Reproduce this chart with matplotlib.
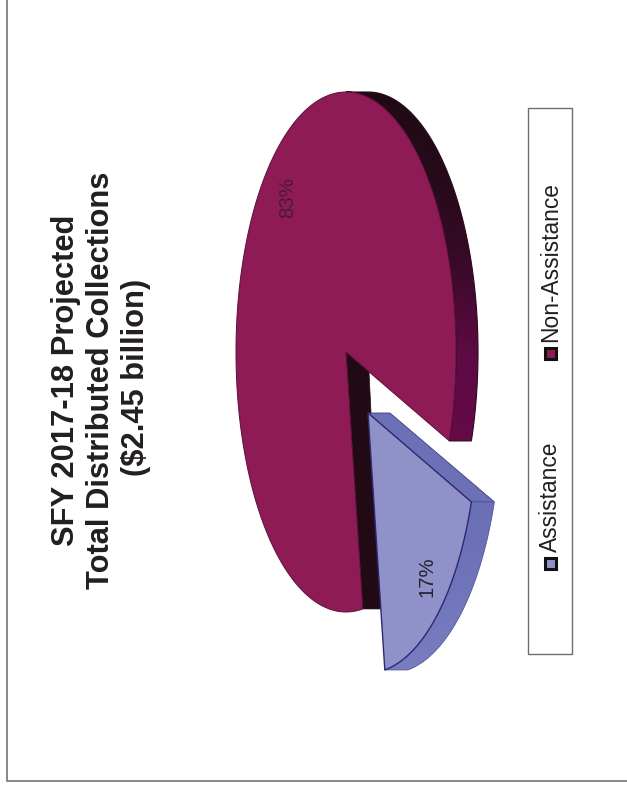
import numpy as np
import matplotlib
matplotlib.use("Agg")
import matplotlib.pyplot as plt
from matplotlib.patches import Polygon, Rectangle
from matplotlib.colors import LinearSegmentedColormap

title_lines = ["SFY 2017-18 Projected", "Total Distributed Collections", "($2.45 billion)"]
categories = ["Assistance", "Non-Assistance"]
shares = [17, 83]
share_labels = ["17%", "83%"]

plt.rcParams['font.family'] = ['Liberation Sans', 'DejaVu Sans']
W, H = 627, 786
fig = plt.figure(figsize=(W / 100, H / 100), dpi=100)
ax = fig.add_axes([0, 0, 1, 1])

A, B, DEPTH = 110, 260, 22


def arc(cx, cy, t0, t1, n=200):
    t = np.radians(np.linspace(t0, t1, n))
    return np.column_stack([cx + A * np.cos(t), cy - B * np.sin(t)])


def gradient_fill(points, colors, zorder):
    """Fill a polygon with a colour ramp running down the page."""
    poly = Polygon(points, closed=True, fc='none', ec='none', zorder=zorder)
    ax.add_patch(poly)
    cmap = LinearSegmentedColormap.from_list('ramp', colors)
    x0, y0 = points.min(axis=0)
    x1, y1 = points.max(axis=0)
    grad = np.linspace(0, 1, 256).reshape(-1, 1)
    im = ax.imshow(grad, cmap=cmap, aspect='auto', extent=(x0, x1, y1, y0),
                   zorder=zorder, interpolation='bilinear')
    im.set_clip_path(poly)


start = -20.0
blue_sweep = shares[0] / sum(shares) * 360
red_sweep = shares[1] / sum(shares) * 360
red_end = start + red_sweep
blue_t0, blue_t1 = start - blue_sweep, start

# maroon slice
rcx, rcy = 346, 352
front = arc(rcx, rcy, start, 90)
rim_pts = np.vstack([front, front[::-1] + [DEPTH, 0]])
gradient_fill(rim_pts, ['#1f0a14', '#260a1a', '#3a0a28', '#5e0a44', '#640a48'], 2)
ax.add_patch(Polygon(rim_pts, closed=True, fc='none', ec='#2a0a1a', lw=0.8, zorder=2))
rend = arc(rcx, rcy, red_end, red_end, 1)[0]
ax.add_patch(Polygon([(rcx, rcy), rend, rend + [DEPTH - 4, 0], (rcx + DEPTH, rcy)], closed=True,
                     fc='#220a14', ec='#220a14', lw=0.5, zorder=2))
ax.add_patch(Polygon(np.vstack([[(rcx, rcy)], arc(rcx, rcy, start, red_end, 400)]), closed=True,
                     fc='#8e1b56', ec='#5a1038', lw=0.7, zorder=3))

# blue slice
bcx, bcy = 368, 413
p1 = arc(bcx, bcy, start, start, 1)[0]
ax.add_patch(Polygon([(bcx, bcy), p1, p1 + [DEPTH + 1, 0], (bcx + DEPTH, bcy)], closed=True,
                     fc='#6c70b6', ec='#3a3a80', lw=0.6, zorder=4))
outer = np.vstack([arc(bcx, bcy, blue_t0, blue_t1), arc(bcx, bcy, blue_t1, blue_t0) + [DEPTH + 1, 0]])
gradient_fill(outer, ['#6a6fb6', '#7074ba', '#7a7ec0'], 4)
ax.add_patch(Polygon(outer, closed=True, fc='none', ec='#55559a', lw=0.6, zorder=4))
ax.add_patch(Polygon(np.vstack([[(bcx, bcy)], arc(bcx, bcy, blue_t0, blue_t1)]), closed=True,
                     fc='#9091c9', ec='#2c2a72', lw=1.0, zorder=5))

# value labels
ax.text(288, 198, share_labels[1], rotation=90, ha='center', va='center', fontsize=14.7,
        color='#4a1a35', zorder=6)
ax.text(427, 577, share_labels[0], rotation=90, ha='center', va='center', fontsize=14.7,
        color='#222233', zorder=6)

# title
for x, y, line in zip([66, 101.5, 136], [380, 380, 377], title_lines):
    ax.text(x, y, line, rotation=90, ha='center', va='center', fontsize=22.2,
            fontweight='bold', color='#231f20')

# legend
ax.add_patch(Rectangle((528, 108), 44, 546, fc='white', ec='#6e6e6e', lw=1))
for y_mark, y_text, name, col in [(563, 552, categories[0], '#9091c9'), (353.5, 342, categories[1], '#8e1b56')]:
    ax.add_patch(Rectangle((544.5, y_mark - 5.5), 11, 11, fc=col, ec='#111111', lw=2.2, zorder=3))
    ax.text(550.5, y_text, name, rotation=90, ha='center', va='bottom', fontsize=16.4, color='#231f20')

# page frame
ax.plot([6.5, 6.5, W], [0, 781, 781], color='#7f7f7f', lw=1.3, solid_joinstyle='miter')

ax.set_xlim(0, W)
ax.set_ylim(H, 0)
ax.axis('off')
fig.savefig('out.png', dpi=100)
